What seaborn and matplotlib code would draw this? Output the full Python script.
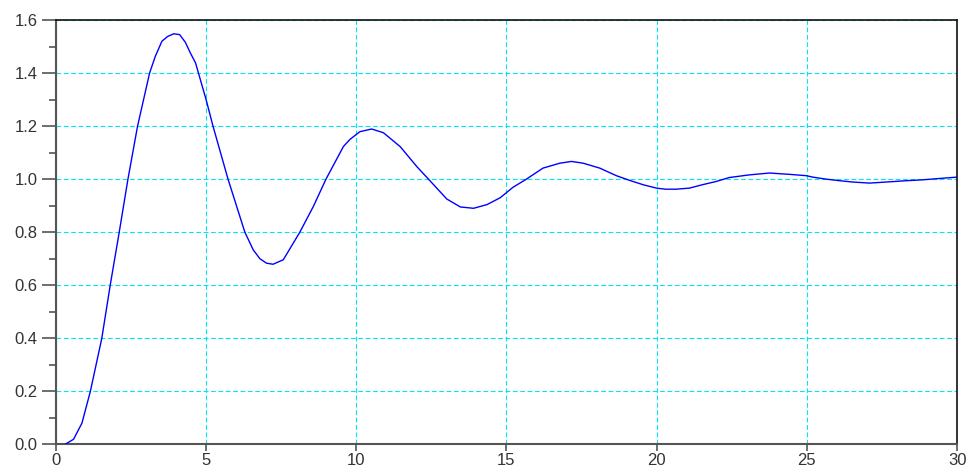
import numpy as np
import pandas as pd
import matplotlib
matplotlib.use("Agg")
import matplotlib.pyplot as plt
from matplotlib.ticker import MultipleLocator
import seaborn as sns

# values
t = [0.32, 0.60, 0.88, 1.16, 1.54, 1.82, 2.12, 2.41, 2.73, 3.13, 3.32, 3.54,
     3.73, 3.93, 4.13, 4.32, 4.49, 4.66, 5.01, 5.24, 5.74, 6.30, 6.58, 6.80,
     7.02, 7.24, 7.58, 8.13, 8.58, 9.00, 9.58, 9.80, 10.13, 10.52, 10.91, 11.47,
     12.02, 12.41, 13.02, 13.47, 13.91, 14.36, 14.80, 15.22, 15.67, 16.22, 16.78,
     17.17, 17.56, 18.11, 18.67, 19.11, 19.56, 20.00, 20.30, 20.64, 21.09, 21.53,
     21.98, 22.42, 23.09, 23.76, 24.42, 24.98, 25.20, 25.64, 26.09, 26.53, 27.09,
     27.64, 28.31, 28.87, 29.42, 30.00]
y = [0.000, 0.019, 0.080, 0.200, 0.400, 0.600, 0.800, 1.000, 1.200, 1.400, 1.463, 1.520,
     1.538, 1.548, 1.545, 1.516, 1.475, 1.438, 1.300, 1.200, 1.000, 0.800, 0.733, 0.700,
     0.683, 0.679, 0.696, 0.800, 0.897, 1.000, 1.123, 1.150, 1.179, 1.189, 1.175, 1.1225,
     1.0475, 1.000, 0.925, 0.895, 0.890, 0.904, 0.930, 0.969, 1.000, 1.0415, 1.060,
     1.0667, 1.060, 1.0415, 1.0126, 0.995, 0.9786, 0.966, 0.962, 0.962, 0.966, 0.979,
     0.991, 1.006, 1.016, 1.023, 1.018, 1.013, 1.0075, 1.000, 0.994, 0.989, 0.985,
     0.989, 0.994, 0.9975, 1.0025, 1.0075]

x_ticks = [0, 5, 10, 15, 20, 25, 30]
y_ticks = [0.0, 0.2, 0.4, 0.6, 0.8, 1.0, 1.2, 1.4, 1.6]

df = pd.DataFrame({"t": t, "y": y})

sns.set_style("ticks")
plt.rcParams["font.family"] = ["Liberation Sans", "DejaVu Sans"]
plt.rcParams["lines.scale_dashes"] = False

fig = plt.figure(figsize=(9.69, 4.71), dpi=100)
ax = fig.add_axes([0.0573, 0.0567, 0.9304, 0.9008])

sns.lineplot(data=df, x="t", y="y", estimator=None, sort=False,
             color="#0000ff", linewidth=1.0, ax=ax, zorder=3)

ax.set_xlim(0, 30)
ax.set_ylim(0, 1.6)
ax.set_xticks(x_ticks)
ax.set_yticks(y_ticks)
ax.set_xticklabels([str(v) for v in x_ticks])
ax.set_yticklabels([f"{v:.1f}" for v in y_ticks])
ax.yaxis.set_minor_locator(MultipleLocator(0.1))
ax.set_xlabel("")
ax.set_ylabel("")

ax.grid(True, which="major", color="#00e5ee", linestyle=(0, (3.4, 1.9)), linewidth=0.8)
ax.set_axisbelow(True)

ax.tick_params(axis="y", which="major", direction="out", length=10, width=1.2,
               color="#555555", labelsize=12, labelcolor="#333333", pad=3)
ax.tick_params(axis="x", which="major", direction="out", length=5, width=1.2,
               color="#555555", labelsize=12, labelcolor="#333333", pad=1)
ax.tick_params(axis="y", which="minor", direction="out", length=5, width=1.2,
               color="#555555")

for side in ["left", "bottom"]:
    ax.spines[side].set_color("#555555")
    ax.spines[side].set_linewidth(1.5)
for side in ["top", "right"]:
    ax.spines[side].set_visible(True)
    ax.spines[side].set_color("#111111")
    ax.spines[side].set_linewidth(1.2)

fig.savefig("out.png", dpi=100)
